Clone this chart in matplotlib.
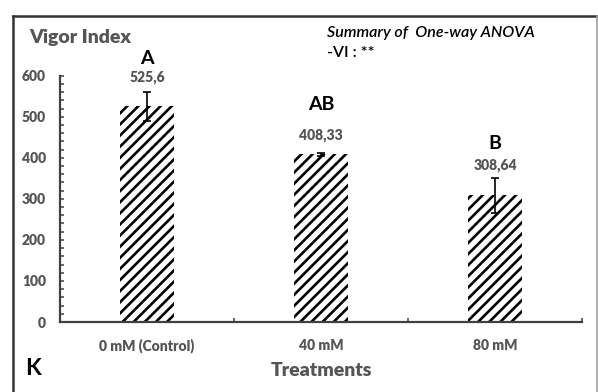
import matplotlib
matplotlib.use("Agg")
import matplotlib.pyplot as plt
from matplotlib.ticker import MultipleLocator, FixedLocator
from matplotlib.lines import Line2D

plt.rcParams['font.family'] = ['Lato', 'DejaVu Sans']
plt.rcParams['hatch.linewidth'] = 1.9
plt.rcParams['hatch.color'] = 'black'

# data
treatments = ['0 mM (Control)', '40 mM', '80 mM']
vigor_index = [525.6, 408.33, 308.64]
vigor_err = [35, 4.5, 42]
value_labels = ['525,6', '408,33', '308,64']
groups = ['A', 'AB', 'B']

GRAY = '#555555'
SPINE = '#404040'

fig = plt.figure(figsize=(5.98, 3.92), dpi=100)
ax = fig.add_axes([60 / 598, 1 - 322 / 392, 522 / 598, (322 - 75.7) / 392])

x = list(range(len(treatments)))
ax.bar(x, vigor_index, width=0.31, color='white', edgecolor='black',
       linewidth=0, hatch='///')
ax.errorbar(x, vigor_index, yerr=vigor_err, fmt='none', ecolor='black',
            elinewidth=1.2, capsize=3, capthick=1.2)

# value labels and significance letters above the error bars
label_gap = [14.7, 17.5, 13.3]
letter_gap = [18.5, 31, 21]
for i, v in enumerate(vigor_index):
    top = v + vigor_err[i]
    ax.annotate(value_labels[i], (i, top), xytext=(0, label_gap[i] * 0.72),
                textcoords='offset points', ha='center', va='center',
                fontsize=10, fontweight='heavy', color=GRAY)
    ax.annotate(groups[i], (i, top),
                xytext=(0, (label_gap[i] + letter_gap[i]) * 0.72),
                textcoords='offset points', ha='center', va='center',
                fontsize=14, fontweight='bold', color='black')

ax.set_xlim(-0.5, 2.5)
ax.set_ylim(0, 600)
ax.yaxis.set_major_locator(MultipleLocator(100))
ax.yaxis.set_minor_locator(MultipleLocator(20))
ax.set_xticks(x)
ax.set_xticklabels(treatments)
ax.xaxis.set_minor_locator(FixedLocator([0.5, 1.5, 2.5]))

ax.tick_params(axis='y', which='both', direction='in', color=SPINE,
               width=1.1, length=3.2, pad=10, labelsize=10, labelcolor=GRAY)
ax.tick_params(axis='x', which='major', length=0, pad=12, labelsize=10,
               labelcolor=GRAY)
ax.tick_params(axis='x', which='minor', direction='in', color=SPINE,
               width=1.1, length=3)
for lab in ax.get_xticklabels() + ax.get_yticklabels():
    lab.set_fontweight('heavy')

for side in ['top', 'right']:
    ax.spines[side].set_visible(False)
for side in ['left', 'bottom']:
    ax.spines[side].set_color(SPINE)
    ax.spines[side].set_linewidth(1.6)

# titles and annotations in figure pixels
def fig_text(px, py, s, **kw):
    fig.text(px / 598, 1 - py / 392, s, **kw)

fig_text(29, 38, 'Vigor Index', fontsize=14, fontweight='heavy',
         color=GRAY, ha='left', va='center')
fig_text(321.5, 370, 'Treatments', fontsize=14, fontweight='heavy',
         color=GRAY, ha='center', va='center')
fig_text(25, 368.5, 'K', fontsize=16.5, fontweight='bold', color='black',
         ha='left', va='center')
fig_text(327, 33, 'Summary of  One-way ANOVA', fontsize=11.5,
         style='italic', fontweight='semibold', color='black',
         ha='left', va='center')
fig_text(327, 53, '-VI : **', fontsize=11.5, fontweight='semibold',
         color='black', ha='left', va='center')

# outer frame
fig.add_artist(Line2D([13 / 598, 13 / 598], [0, 1 - 16 / 392],
                      transform=fig.transFigure, color='#333333', lw=1.8))
fig.add_artist(Line2D([13 / 598, 597 / 598], [1 - 16 / 392, 1 - 16 / 392],
                      transform=fig.transFigure, color='#333333', lw=1.8))
fig.add_artist(Line2D([597 / 598, 597 / 598], [0, 1 - 16 / 392],
                      transform=fig.transFigure, color='#a0a0a0', lw=1.2))

fig.savefig('out.png', dpi=100)
